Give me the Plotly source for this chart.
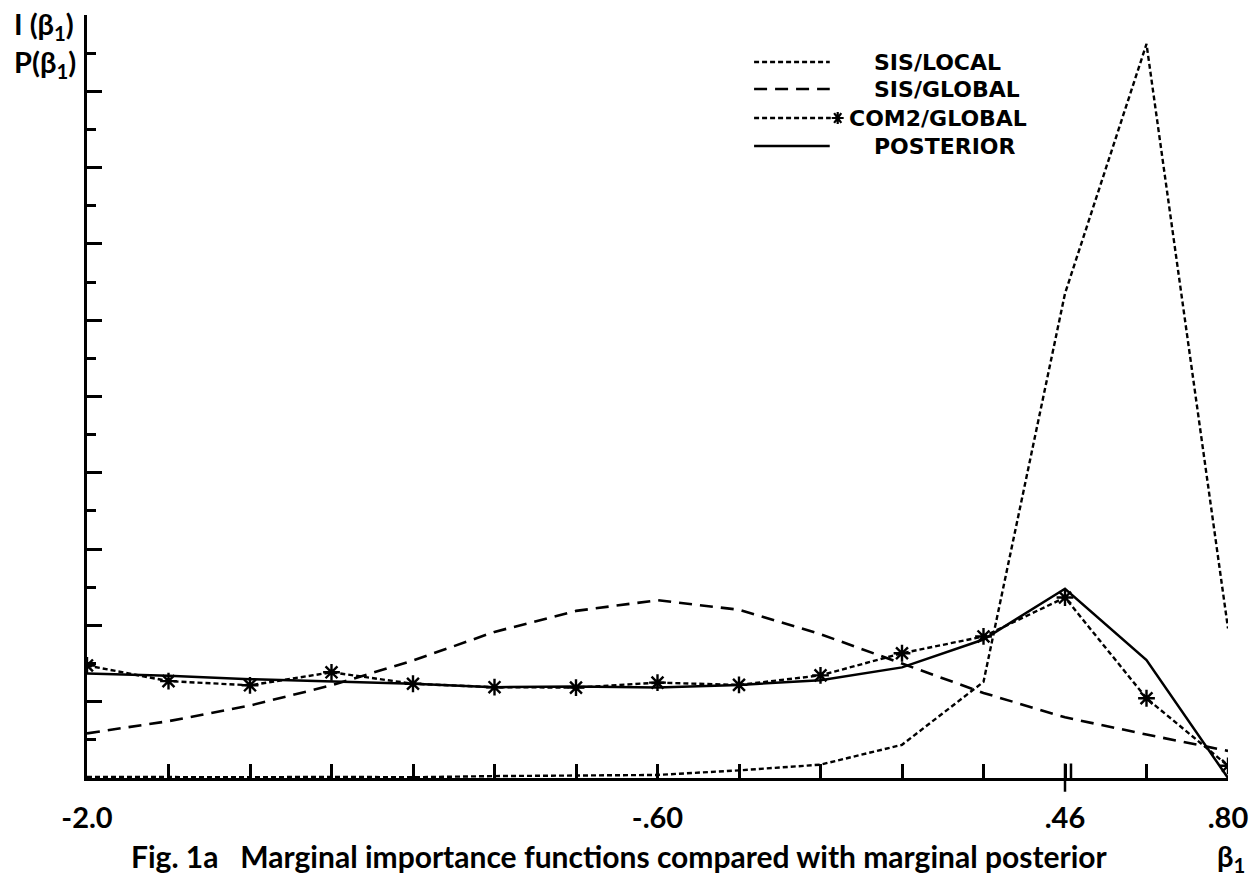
import plotly.graph_objects as go

# beta_1 grid (15 evaluation points) and the marginal curves
beta1 = [-2.0, -1.8, -1.6, -1.4, -1.2, -1.0, -0.8, -0.6, -0.4, -0.2, 0.0, 0.2, 0.4, 0.6, 0.8]

sis_local = [0.03, 0.02, 0.02, 0.03, 0.02, 0.05, 0.06, 0.08, 0.20, 0.35, 0.87, 2.52, 12.7, 19.24, 3.92]
sis_global = [1.17, 1.49, 1.90, 2.43, 3.08, 3.83, 4.38, 4.66, 4.41, 3.77, 3.00, 2.23, 1.59, 1.14, 0.71]
com2_global = [2.95, 2.54, 2.43, 2.77, 2.47, 2.38, 2.37, 2.50, 2.44, 2.69, 3.27, 3.71, 4.73, 2.09, 0.32]
posterior = [2.74, 2.68, 2.59, 2.53, 2.47, 2.38, 2.40, 2.37, 2.44, 2.56, 2.90, 3.63, 4.96, 3.09, 0.0]

# labelled positions on the beta_1 axis
tick_pos = [-2.0, -0.6, 0.4, 0.8]
tick_text = ["-2.0", "-.60", ".46", ".80"]

W, H = 1260, 884
ML, MR, MT, MB = 87, 27, 15, 106
PW, PH = W - ML - MR, H - MT - MB

INK = "black"
LBL_FONT = "Lato"
KEY_FONT = "DejaVu Sans"


def px(xp):
    return (xp - ML) / PW


def py(yp):
    return (H - MB - yp) / PH


SHORT_DASH = "5px,3px"
LONG_DASH = "13px,8px"

fig = go.Figure()
fig.add_trace(go.Scatter(x=beta1, y=sis_local, mode="lines", name="SIS/LOCAL",
                         line=dict(color=INK, width=2.4, dash=SHORT_DASH)))
fig.add_trace(go.Scatter(x=beta1, y=sis_global, mode="lines", name="SIS/GLOBAL",
                         line=dict(color=INK, width=2.6, dash=LONG_DASH)))
fig.add_trace(go.Scatter(x=beta1, y=com2_global, mode="lines+markers", name="COM2/GLOBAL",
                         line=dict(color=INK, width=2.4, dash=SHORT_DASH),
                         marker=dict(symbol="asterisk-open", size=14,
                                     line=dict(color=INK, width=2.4))))
fig.add_trace(go.Scatter(x=beta1, y=posterior, mode="lines", name="POSTERIOR",
                         line=dict(color=INK, width=2.5)))

# labelled major ticks, plain minor ticks at every grid point
fig.update_xaxes(range=[-2.0, 0.8], showgrid=False, zeroline=False,
                 showline=True, linecolor=INK, linewidth=3,
                 tickmode="array", tickvals=tick_pos, ticktext=tick_text,
                 ticks="inside", ticklen=14, tickwidth=2.5, tickcolor=INK,
                 ticklabelstandoff=12,
                 tickfont=dict(family=LBL_FONT, size=29, color=INK, weight="bold"),
                 minor=dict(tickmode="array", tickvals=beta1, ticks="inside",
                            ticklen=14, tickwidth=2.5, tickcolor=INK, showgrid=False))
fig.update_yaxes(range=[0, 20], showgrid=False, zeroline=False,
                 showline=True, linecolor=INK, linewidth=3,
                 tickmode="linear", tick0=0, dtick=2,
                 ticks="inside", ticklen=15, tickwidth=2.5, tickcolor=INK,
                 showticklabels=False,
                 minor=dict(dtick=1, ticks="inside", ticklen=9, tickwidth=2.5, tickcolor=INK))

shapes = []
# double mark at .46
shapes.append(dict(type="line", xref="x", yref="paper", x0=0.4, x1=0.4,
                   y0=-0.018, y1=0.019, line=dict(color=INK, width=2.5)))
shapes.append(dict(type="line", xref="x", yref="paper", x0=0.4147, x1=0.4147,
                   y0=0, y1=0.019, line=dict(color=INK, width=2.5)))

# legend key
leg_rows = [(62, SHORT_DASH, "SIS/LOCAL", 875, False),
            (89, LONG_DASH, "SIS/GLOBAL", 875, False),
            (118, SHORT_DASH, "COM2/GLOBAL", 850, True),
            (146, "solid", "POSTERIOR", 875, False)]
annotations = []
for yp, dash, label, tx, star in leg_rows:
    shapes.append(dict(type="line", xref="paper", yref="paper",
                       x0=px(757), x1=px(833 if not star else 834), y0=py(yp), y1=py(yp),
                       line=dict(color=INK, width=2.6, dash=dash)))
    if star:
        cx, cy, r = 841, yp, 6
        path = (f"M{px(cx - r)},{py(cy)} L{px(cx + r)},{py(cy)} "
                f"M{px(cx - r * 0.6)},{py(cy - r * 0.8)} L{px(cx + r * 0.6)},{py(cy + r * 0.8)} "
                f"M{px(cx - r * 0.6)},{py(cy + r * 0.8)} L{px(cx + r * 0.6)},{py(cy - r * 0.8)} "
                f"M{px(cx)},{py(cy - r)} L{px(cx)},{py(cy + r)}")
        shapes.append(dict(type="path", xref="paper", yref="paper", path=path,
                           line=dict(color=INK, width=2.2)))
    annotations.append(dict(xref="paper", yref="paper", x=px(tx), y=py(yp),
                            xanchor="left", yanchor="middle", showarrow=False,
                            text=label, height=24,
                            font=dict(family=KEY_FONT, size=22, color=INK, weight="bold")))

# axis captions
annotations.append(dict(xref="paper", yref="paper", x=px(78), y=py(4),
                        xanchor="right", yanchor="top", showarrow=False, align="left",
                        text="I (β<sub>1</sub>)<br>P(β<sub>1</sub>)",
                        font=dict(family=LBL_FONT, size=29, color=INK, weight="bold")))
annotations.append(dict(xref="paper", yref="paper", x=px(1236), y=py(857),
                        xanchor="center", yanchor="middle", showarrow=False,
                        text="β<sub>1</sub>",
                        font=dict(family=LBL_FONT, size=29, color=INK, weight="bold")))
annotations.append(dict(xref="paper", yref="paper", x=px(129), y=py(856),
                        xanchor="left", yanchor="middle", showarrow=False,
                        text="Fig. 1a&nbsp;&nbsp;&nbsp;Marginal importance functions compared with marginal posterior",
                        font=dict(family=LBL_FONT, size=30, color=INK, weight="bold")))

fig.update_layout(width=W, height=H, margin=dict(l=ML, r=MR, t=MT, b=MB),
                  paper_bgcolor="white", plot_bgcolor="white",
                  showlegend=False, shapes=shapes, annotations=annotations)

fig.write_html("out.html")
